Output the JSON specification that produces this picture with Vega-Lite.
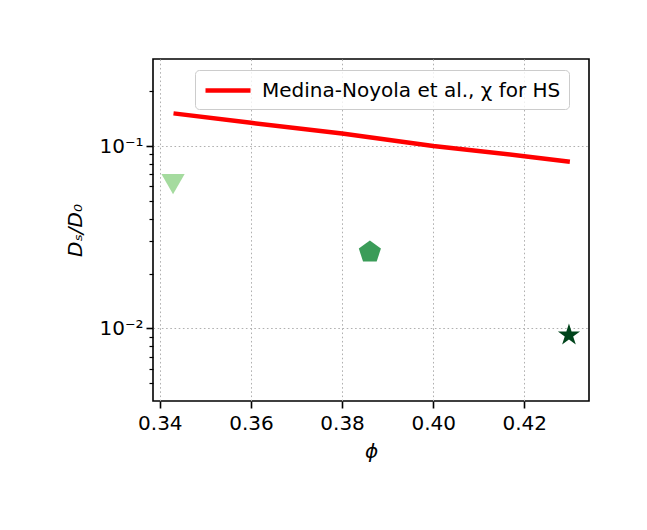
{
  "$schema": "https://vega.github.io/schema/vega-lite/v6.json",
  "width": 436,
  "height": 342,
  "autosize": {"type": "none"},
  "padding": {"left": 153, "top": 59, "right": 58, "bottom": 129},
  "background": "white",
  "config": {
    "view": {"stroke": "black", "strokeWidth": 1.6},
    "font": "DejaVu Sans",
    "axis": {
      "labelFont": "DejaVu Sans",
      "titleFont": "DejaVu Sans",
      "labelColor": "black",
      "titleColor": "black",
      "tickColor": "black",
      "domain": false,
      "labelFontSize": 20,
      "titleFontSize": 20,
      "titleFontWeight": "normal",
      "gridColor": "#b0b0b0",
      "gridDash": [1.6, 2.6],
      "gridWidth": 1
    }
  },
  "datasets": {
    "line": [
      {"phi": 0.343, "ds": 0.151, "label": "Medina-Noyola et al., χ for HS"},
      {"phi": 0.36, "ds": 0.134, "label": "Medina-Noyola et al., χ for HS"},
      {"phi": 0.38, "ds": 0.117, "label": "Medina-Noyola et al., χ for HS"},
      {"phi": 0.40, "ds": 0.100, "label": "Medina-Noyola et al., χ for HS"},
      {"phi": 0.42, "ds": 0.088, "label": "Medina-Noyola et al., χ for HS"},
      {"phi": 0.43, "ds": 0.082, "label": "Medina-Noyola et al., χ for HS"}
    ],
    "pts": [
      {"phi": 0.3429, "ds": 0.0618, "kind": "triangle"},
      {"phi": 0.3861, "ds": 0.0262, "kind": "pentagon"},
      {"phi": 0.4298, "ds": 0.0092, "kind": "star"}
    ]
  },
  "layer": [
    {
      "data": {"name": "line"},
      "mark": {"type": "line", "strokeWidth": 4.5, "clip": true},
      "encoding": {
        "x": {
          "field": "phi",
          "type": "quantitative",
          "scale": {"domain": [0.3385, 0.4342], "nice": false, "zero": false},
          "axis": {
            "values": [0.34, 0.36, 0.38, 0.40, 0.42],
            "format": ".2f",
            "title": "ϕ",
            "titleFontStyle": "italic",
            "tickSize": 7,
            "tickWidth": 1.6,
            "labelPadding": 5,
            "titlePadding": 8,
            "grid": true,
            "labelFlush": false
          }
        },
        "y": {
          "field": "ds",
          "type": "quantitative",
          "scale": {"type": "log", "domain": [0.004, 0.3], "nice": false},
          "axis": {
            "orient": "left",
            "values": [0.01, 0.1],
            "labelExpr": "datum.value < 0.05 ? '10⁻²' : '10⁻¹'",
            "title": "Dₛ/D₀",
            "titleFontStyle": "italic",
            "tickSize": 7,
            "tickWidth": 1.6,
            "labelPadding": 3,
            "titlePadding": 13,
            "grid": true
          }
        },
        "color": {
          "field": "label",
          "type": "nominal",
          "scale": {"domain": ["Medina-Noyola et al., χ for HS"], "range": ["#ff0000"]},
          "legend": {
            "title": null,
            "orient": "none",
            "legendX": 42,
            "legendY": 11,
            "padding": 8,
            "strokeColor": "#cccccc",
            "fillColor": "rgba(255,255,255,0.8)",
            "cornerRadius": 4,
            "symbolType": "M-1,0L3.5,0",
            "symbolSize": 400,
            "symbolStrokeWidth": 4.5,
            "symbolStrokeColor": "#ff0000",
            "symbolFillColor": "transparent",
            "labelFontSize": 20,
            "labelFont": "DejaVu Sans",
            "labelColor": "black",
            "labelOffset": 34,
            "labelLimit": 0
          }
        }
      }
    },
    {
      "data": {"name": "pts"},
      "mark": {"type": "point", "filled": true, "opacity": 1, "strokeWidth": 0},
      "encoding": {
        "x": {"field": "phi", "type": "quantitative"},
        "y": {
          "field": "ds",
          "type": "quantitative",
          "axis": {
            "orient": "left",
            "values": [0.005, 0.006, 0.007, 0.008, 0.009, 0.02, 0.03, 0.04, 0.05, 0.06, 0.07, 0.08, 0.09, 0.2],
            "labels": false,
            "tickSize": 4,
            "tickWidth": 1.2,
            "grid": false,
            "title": null
          }
        },
        "fill": {
          "field": "kind",
          "type": "nominal",
          "scale": {"domain": ["triangle", "pentagon", "star"], "range": ["#a5db9f", "#3a9c58", "#00441b"]},
          "legend": null
        },
        "shape": {
          "field": "kind",
          "type": "nominal",
          "scale": {
            "domain": ["triangle", "pentagon", "star"],
            "range": [
              "triangle-down",
              "M0,-1L0.951,-0.309L0.588,0.809L-0.588,0.809L-0.951,-0.309Z",
              "M0,-1L0.2245,-0.309L0.951,-0.309L0.3633,0.118L0.588,0.809L0,0.382L-0.588,0.809L-0.3633,0.118L-0.951,-0.309L-0.2245,-0.309Z"
            ]
          },
          "legend": null
        },
        "size": {"value": 540}
      }
    }
  ],
  "resolve": {"axis": {"y": "independent"}}
}
